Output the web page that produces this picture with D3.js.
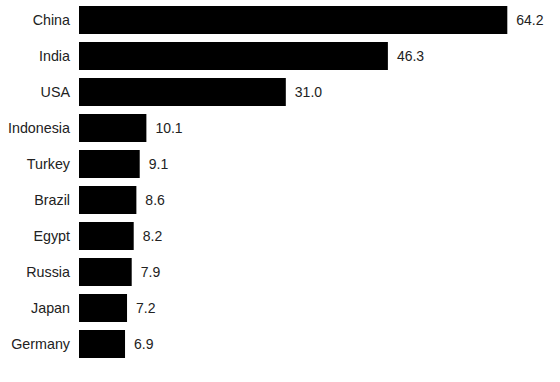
<!DOCTYPE html>
<html>
<head>
<meta charset="utf-8">
<script src="https://cdn.jsdelivr.net/npm/d3@7"></script>
<style>
html,body{margin:0;padding:0;background:#fff;}
svg{display:block;}
text{font-family:"Liberation Sans",Arial,Helvetica,sans-serif;}
</style>
</head>
<body>
<svg id="chart" width="560" height="382"></svg>
<script>
const countries = ["China","India","USA","Indonesia","Turkey","Brazil","Egypt","Russia","Japan","Germany"];
const values = [64.2,46.3,31.0,10.1,9.1,8.6,8.2,7.9,7.2,6.9];
const valueLabels = ["64.2","46.3","31.0","10.1","9.1","8.6","8.2","7.9","7.2","6.9"];

const svg = d3.select("#chart");
const data = countries.map((c,i)=>({c, v:values[i], l:valueLabels[i]}));

const x = d3.scaleLinear().domain([0,70]).range([79,546]);
const y = d3.scaleBand().domain(countries).range([2,362])
  .paddingInner(8/36).paddingOuter(4/36);

svg.selectAll("rect.bar").data(data).join("rect")
  .attr("class","bar")
  .attr("x", x(0))
  .attr("y", d=>y(d.c))
  .attr("width", d=>x(d.v)-x(0))
  .attr("height", y.bandwidth())
  .attr("fill","#000");

svg.selectAll("text.cat").data(data).join("text")
  .attr("class","cat")
  .attr("x", 70)
  .attr("y", d=>y(d.c)+y.bandwidth()/2)
  .attr("dy","0.35em")
  .attr("text-anchor","end")
  .attr("font-size","14.3px")
  .attr("fill","#222")
  .text(d=>d.c);

svg.selectAll("text.val").data(data).join("text")
  .attr("class","val")
  .attr("x", d=>x(d.v)+9)
  .attr("y", d=>y(d.c)+y.bandwidth()/2)
  .attr("dy","0.35em")
  .attr("font-size","14px")
  .attr("fill","#222")
  .text(d=>d.l);
</script>
</body>
</html>
